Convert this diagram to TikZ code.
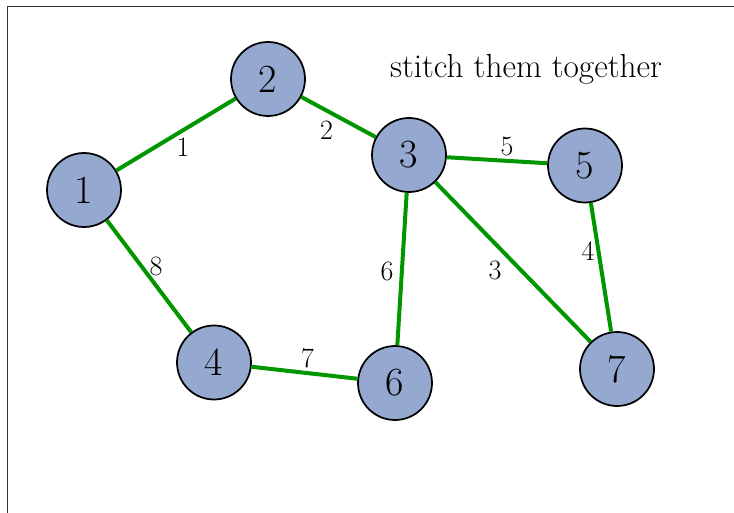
\documentclass[tikz,border=0pt]{standalone}
\usepackage{tikz}
\definecolor{nodefill}{RGB}{149,168,208}
\definecolor{edgegreen}{RGB}{0,150,0}
\begin{document}
\begin{tikzpicture}[x=0.75pt,y=-0.75pt,
  vertex/.style={circle,draw=black,line width=1.3pt,fill=nodefill,minimum size=55.5pt,inner sep=0pt,font=\fontsize{30}{34}\selectfont},
  edge/.style={draw=edgegreen,line width=3pt},
  wlabel/.style={font=\fontsize{21}{24}\selectfont,inner sep=0pt}]
\useasboundingbox (0,0) rectangle (734,513);
\coordinate (fc) at (7.5,6.5);
\coordinate (ftr) at (734,6.5);
\coordinate (fbl) at (7.5,513);
\draw[black!80,line width=0.9pt] (fbl) -- (fc) -- (ftr);
\node[font=\fontsize{25}{29}\selectfont] (title) at (526,69) {stitch them together};
\node[vertex] (n1) at (84,190) {1};
\node[vertex] (n2) at (268,79) {2};
\node[vertex] (n3) at (409,155) {3};
\node[vertex] (n5) at (585,165.5) {5};
\node[vertex] (n4) at (214,362.5) {4};
\node[vertex] (n6) at (395,383) {6};
\node[vertex] (n7) at (617,369) {7};
\path[edge] (n1) -- node[wlabel,shift={(7,13)}] (l12) {1} (n2);
\path[edge] (n2) -- node[wlabel,shift={(-12,13)}] (l23) {2} (n3);
\path[edge] (n3) -- node[wlabel,shift={(10,-14)}] (l35) {5} (n5);
\path[edge] (n3) -- node[wlabel,shift={(-15,2)}] (l36) {6} (n6);
\path[edge] (n3) -- node[wlabel,shift={(-18,8)}] (l37) {3} (n7);
\path[edge] (n5) -- node[wlabel,shift={(-13,-16)}] (l57) {4} (n7);
\path[edge] (n1) -- node[wlabel,shift={(7,-10)}] (l14) {8} (n4);
\path[edge] (n4) -- node[wlabel,shift={(3,-15)}] (l46) {7} (n6);
\end{tikzpicture}
\end{document}
